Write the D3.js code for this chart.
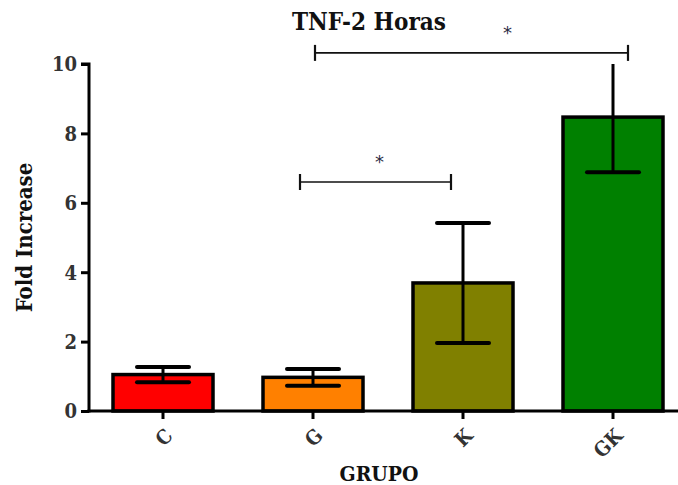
<!DOCTYPE html>
<html><head><meta charset="utf-8">
<script src="https://cdn.jsdelivr.net/npm/d3@7"></script>
<style>body{margin:0;background:#fff}svg{display:block}</style>
</head><body>
<svg id="c" width="678" height="485"></svg>
<script>
const categories = ["C", "G", "K", "GK"];
const means = [1.05, 0.97, 3.69, 8.47];
const errors = [0.22, 0.24, 1.73, 1.59];
const colors = ["#FF0000", "#FF8000", "#808000", "#008000"];
const yTicks = [0, 2, 4, 6, 8, 10];
const brackets = [
  {from: "G", to: "K", y: 6.6, label: "*"},
  {from: "G", to: "GK", y: 10.32, label: "*"}
];

(function () {
const svg = d3.select("#c");
const FONT = "'DejaVu Serif Condensed', 'DejaVu Serif', serif";
const pl = 89, pr = 678, pt = 64, pb = 411;

const x = d3.scaleBand().domain(categories).range([pl, pl + 598]).paddingInner(1 / 3).paddingOuter(0.16);
const y = d3.scaleLinear().domain([0, 10]).range([pb, pt]);

svg.append("defs").append("clipPath").attr("id", "clip")
  .append("rect").attr("x", pl).attr("y", pt).attr("width", pr - pl).attr("height", pb - pt + 5);

const g = svg.append("g").attr("clip-path", "url(#clip)");

g.selectAll("rect.bar").data(categories).join("rect")
  .attr("x", d => x(d)).attr("y", (d, i) => y(means[i]))
  .attr("width", x.bandwidth()).attr("height", (d, i) => y(0) - y(means[i]))
  .attr("fill", (d, i) => colors[i]).attr("stroke", "#000").attr("stroke-width", 3.5);

const capW = 26;
categories.forEach((c, i) => {
  const cx = x(c) + x.bandwidth() / 2;
  const hi = y(means[i] + errors[i]), lo = y(means[i] - errors[i]);
  g.append("line").attr("x1", cx).attr("x2", cx).attr("y1", hi).attr("y2", lo)
    .attr("stroke", "#000").attr("stroke-width", 3);
  [hi, lo].forEach(yy => g.append("line").attr("x1", cx - capW).attr("x2", cx + capW)
    .attr("y1", yy).attr("y2", yy).attr("stroke", "#000").attr("stroke-width", 4).attr("stroke-linecap", "round"));
});

const ya = svg.append("g").attr("transform", `translate(${pl},0)`)
  .call(d3.axisLeft(y).tickValues(yTicks).tickSize(8).tickPadding(4));
ya.select(".domain").attr("stroke-width", 3).attr("d", `M-8,${pt}H0V${pb + 1.5}`);
ya.selectAll(".tick line").attr("stroke-width", 3);
ya.selectAll(".tick text").attr("font-family", FONT).attr("font-weight", "bold")
  .attr("font-size", 20).attr("fill", "#333").attr("dy", "0.34em");

const xa = svg.append("g").attr("transform", `translate(0,${pb})`)
  .call(d3.axisBottom(x).tickSize(8).tickSizeOuter(0));
xa.select(".domain").attr("stroke-width", 3).attr("d", `M${pl - 1.5},0H${pr}`);
xa.selectAll(".tick line").attr("stroke-width", 3);
xa.selectAll(".tick text").attr("font-family", FONT).attr("font-weight", "bold")
  .attr("font-size", 20).attr("fill", "#333")
  .attr("text-anchor", "end").attr("dy", null).attr("y", 0)
  .attr("transform", "translate(11,26) rotate(-45)");

svg.append("text").attr("x", 369).attr("y", 30).attr("text-anchor", "middle")
  .attr("font-family", FONT).attr("font-weight", "bold").attr("font-size", 24).attr("fill", "#111")
  .text("TNF-2 Horas");
svg.append("text").attr("transform", `translate(32,${(pt + pb) / 2}) rotate(-90)`)
  .attr("text-anchor", "middle").attr("font-family", FONT).attr("font-weight", "bold")
  .attr("font-size", 22).attr("fill", "#111").text("Fold Increase");
svg.append("text").attr("x", 379).attr("y", 481).attr("text-anchor", "middle")
  .attr("font-family", FONT).attr("font-weight", "bold").attr("font-size", 21).attr("fill", "#111")
  .text("GRUPO");

const offs = [[-13, -12], [2, 15]];
brackets.forEach((b, i) => {
  const x1 = x(b.from) + x.bandwidth() / 2 + offs[i][0];
  const x2 = x(b.to) + x.bandwidth() / 2 + offs[i][1];
  const yy = y(b.y);
  svg.append("line").attr("x1", x1).attr("x2", x2).attr("y1", yy).attr("y2", yy)
    .attr("stroke", "#111").attr("stroke-width", 1.6);
  [x1, x2].forEach(xx => svg.append("line").attr("x1", xx).attr("x2", xx)
    .attr("y1", yy - 8).attr("y2", yy + 8).attr("stroke", "#111").attr("stroke-width", 2.2));
  svg.append("text").attr("x", (x1 + x2) / 2 + (i ? 36 : 4)).attr("y", yy - 14)
    .attr("text-anchor", "middle").attr("font-family", "'DejaVu Sans', sans-serif")
    .attr("font-size", 18).attr("fill", "#2b2b45").text(b.label);
});
})();
</script>
</body></html>
